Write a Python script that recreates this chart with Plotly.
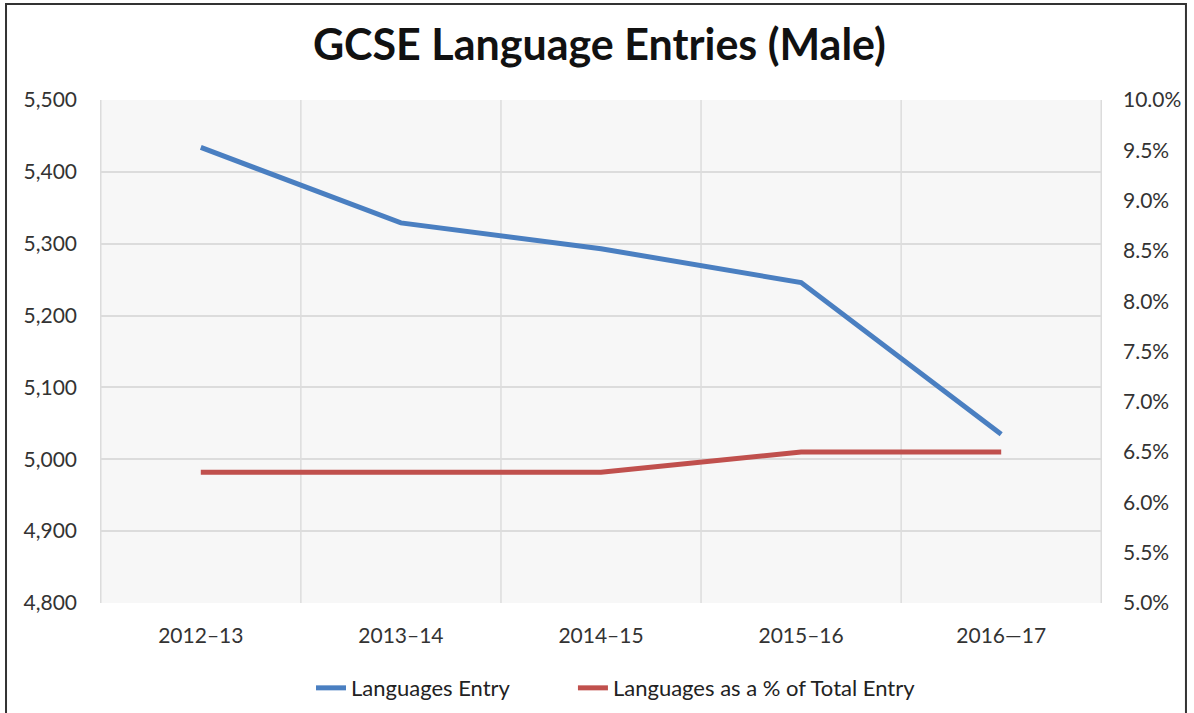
import plotly.graph_objects as go

categories = ["2012–13", "2013–14", "2014–15", "2015–16", "2016—17"]
languages_entry = [5434, 5329, 5293, 5246, 5035]
languages_pct = [0.063, 0.063, 0.063, 0.065, 0.065]

FONT = "Lato, 'Open Sans', sans-serif"

fig = go.Figure()
fig.add_trace(go.Scatter(
    x=categories, y=languages_entry, name="Languages Entry", mode="lines",
    line=dict(color="#4a7fc1", width=5), yaxis="y", legend="legend"))
fig.add_trace(go.Scatter(
    x=categories, y=languages_pct, name="Languages as a % of Total Entry", mode="lines",
    line=dict(color="#c0504d", width=5), yaxis="y2", legend="legend2"))

legend_common = dict(orientation="h", y=0.035, yref="container", yanchor="middle",
                     font=dict(size=22, color="#222222"),
                     bgcolor="rgba(0,0,0,0)")

fig.update_layout(
    width=1194, height=713,
    margin=dict(l=100, r=92, t=100, b=110),
    paper_bgcolor="white", plot_bgcolor="#f7f7f7",
    font=dict(family=FONT, size=20, color="#333333"),
    title=dict(text="<b>GCSE Language Entries (Male)</b>", x=0.502, xref="container",
               y=0.937, yref="container", yanchor="middle",
               font=dict(size=43, color="#111111", family=FONT)),
    xaxis=dict(type="category", showgrid=False, ticks="", showline=False,
               zeroline=False, tickfont=dict(size=21), automargin=False,
               ticklabelstandoff=18),
    yaxis=dict(range=[4800, 5500], dtick=100, tickformat=",d", gridcolor="#dcdcdc",
               gridwidth=1.5, zeroline=False, showline=False, ticks="",
               ticklabelstandoff=22, tickfont=dict(size=21), automargin=False),
    yaxis2=dict(range=[0.05, 0.10], dtick=0.005, tickformat=".1%", overlaying="y",
                side="right", showgrid=False, zeroline=False, showline=False,
                ticks="", ticklabelstandoff=20, tickfont=dict(size=21),
                automargin=False),
    legend=dict(x=0.2106, xanchor="left", **legend_common),
    legend2=dict(x=0.472, xanchor="left", **legend_common),
    showlegend=True,
)

# vertical category-boundary gridlines
for i in range(len(categories) + 1):
    fig.add_shape(type="line", xref="x", yref="paper", x0=i - 0.5, x1=i - 0.5,
                  y0=0, y1=1, line=dict(color="#dcdcdc", width=1.5), layer="below")

# outer border of the chart image
fig.add_shape(type="rect", xref="paper", yref="paper",
              x0=-0.0938, x1=1.0838, y0=-0.4, y1=1.1909,
              line=dict(color="#333333", width=2), fillcolor="rgba(0,0,0,0)")

fig.write_html("out.html", config={"displayModeBar": False},
               post_script="document.body.style.margin='0px';")
